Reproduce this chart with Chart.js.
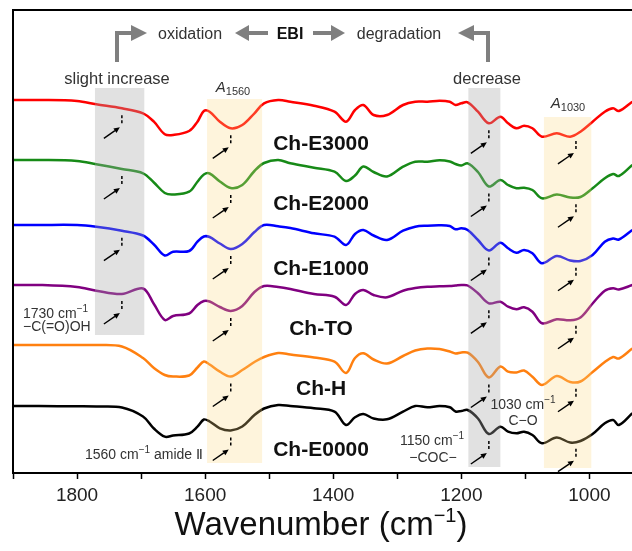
<!DOCTYPE html>
<html>
<head>
<meta charset="utf-8">
<script src="https://cdn.jsdelivr.net/npm/chart.js@4.4.1/dist/chart.umd.min.js"></script>
<style>
    html, body { margin: 0; padding: 0; background: #fff; }
</style>
</head>
<body>
<canvas id="myChart" width="632" height="551"></canvas>
<script>
// wavenumber grid (cm-1)
const wavenumbers = [1900, 1860, 1800, 1770, 1730, 1697, 1680, 1663, 1650, 1625,
    1612, 1602, 1593, 1577, 1560, 1542, 1523, 1508, 1486, 1467,
    1430, 1398, 1380, 1366, 1353, 1337, 1316, 1291, 1272, 1253,
    1234, 1218, 1209, 1200, 1190, 1174, 1157, 1139, 1127, 1114,
    1102, 1089, 1074, 1051, 1030, 1014, 995, 976, 963, 954, 933];

// absorbance relative to each spectrum's own baseline (a.u.)
const chE3000 = [0, 0, -1, -4.3, -8.3, -13.3, -21.7, -34.3, -35, -31,
    -21.7, -11, -11.7, -21.7, -28.3, -25, -13.3, -3.3, 0, -1.7,
    -5.7, -11.7, -21.7, -10, -5, -15, -15, -5, -1.7, -1.7,
    -0.7, -1.7, -5, -3.3, -2.3, -11.7, -23.3, -16.7, -23.3, -28.3,
    -25.7, -28.3, -36.7, -33.3, -36.7, -31.7, -21.7, -11.7, -8.3, -11, -1.7];
const chE2000 = [0, 0, -1, -4.3, -9, -13.3, -22.5, -33, -34.5, -31.7,
    -21.7, -14.5, -13.5, -21.5, -28, -25, -11, -3, 0, -3.3,
    -7.7, -11.7, -21, -15.5, -6.5, -12, -16.5, -6.7, -1.7, -1.7,
    -0.3, -1.5, -4, -5.5, -3.3, -12, -26.5, -20, -25, -28.3,
    -27.7, -30, -38.3, -34.5, -37.5, -37, -28.3, -18.3, -14, -16, -5];
const chE1000 = [0, 0, 0, -1.7, -5.7, -10.5, -19.5, -30.5, -26.7, -26,
    -16.7, -11.5, -12, -18.5, -24, -19, -7, 0, -1.3, -3,
    -8.3, -11.7, -20, -9, -5, -10.5, -15, -5.7, -1.7, -0.7,
    -0.3, -1, -4.3, -3.3, -5, -15, -25.5, -17.7, -23.3, -27.7,
    -25, -28.3, -38.3, -31, -35.5, -36, -30, -16.7, -13.5, -14.5, -5];
const chTO = [0, 0, -2, -5.7, -9, -3.5, -19, -35, -31, -28.5,
    -20, -16, -16.5, -22, -26, -21, -7, -1, -2, -4,
    -9, -11.7, -20, -9, -5, -10, -12.3, -5.7, -3, -1.7,
    -1.3, -1, -0.5, 0, -0.5, -8.3, -18.3, -16.7, -21.7, -24.3,
    -22.3, -26.7, -38.3, -34.3, -35.3, -32.5, -18.5, -5.7, -3.3, -4.5, 0];
const chH = [0, 0, 0, 0, -1.5, -13, -23, -30, -31.5, -30.5,
    -22.5, -16.5, -19.5, -26.7, -31.5, -25, -17, -12, -8, -9.5,
    -12.5, -16.7, -28, -13, -8.3, -14.5, -18.5, -11, -5.5, -3.5,
    -4, -6.5, -8.5, -7.5, -7.7, -17, -32.5, -21.5, -26.7, -27.5,
    -25.5, -31.7, -40, -31, -37, -36.5, -27, -17, -12, -13.5, -3.5];
const chE0000 = [0, 0, -0.3, -0.5, -1.5, -10.5, -22.5, -30.7, -29.5, -27.5,
    -20.7, -13.5, -15.5, -22.3, -24.5, -20.5, -9, -2.5, 1, 0,
    -2.3, -5.7, -19, -11.3, -8, -12.5, -13.3, -5.7, 0, -1.3,
    0, -1.3, -5.5, -5, -4, -12.5, -28, -20.7, -25.7, -27.3,
    -25.7, -29, -37.3, -31.5, -36.5, -35, -28, -17.3, -14, -19, -7.3];

const sampleNames = ['Ch-E3000', 'Ch-E2000', 'Ch-E1000', 'Ch-TO', 'Ch-H', 'Ch-E0000'];
const spectra = [chE3000, chE2000, chE1000, chTO, chH, chE0000];
const offsets = [373, 313, 248, 188, 128, 67];   // vertical stacking offsets
const colors = ['#ff0000', '#178a17', '#0000ff', '#800080', '#ff8010', '#000000'];

const tickValues = [1800, 1600, 1400, 1200, 1000];

// bands of interest (cm-1)
const grayBands = [[1772, 1695], [1189, 1139]];
const beigeBands = [[1597, 1511], [1071, 997]];
// marked bands: 1730, 1560, 1150, 1030
const markWn = [1730, 1560, 1157, 1021];

const FONT = "'Liberation Sans', Arial, sans-serif";

function valueAt(series, wn) {
    for (let i = 0; i < wavenumbers.length - 1; i++) {
        const a = wavenumbers[i], b = wavenumbers[i + 1];
        if (wn <= a && wn >= b) {
            const t = (a - wn) / (a - b);
            return series[i] + t * (series[i + 1] - series[i]);
        }
    }
    return series[series.length - 1];
}

function arrow(ctx, x1, y1, x2, y2, head, width, color, lw) {
    const ang = Math.atan2(y2 - y1, x2 - x1);
    const bx = x2 - head * Math.cos(ang), by = y2 - head * Math.sin(ang);
    ctx.strokeStyle = color;
    ctx.lineWidth = lw;
    ctx.beginPath();
    ctx.moveTo(x1, y1);
    ctx.lineTo(bx, by);
    ctx.stroke();
    ctx.fillStyle = color;
    ctx.beginPath();
    ctx.moveTo(x2, y2);
    ctx.lineTo(bx + width / 2 * Math.sin(ang), by - width / 2 * Math.cos(ang));
    ctx.lineTo(bx - width / 2 * Math.sin(ang), by + width / 2 * Math.cos(ang));
    ctx.closePath();
    ctx.fill();
}

// text made of parts: {t, s, dy, w (weight), i (italic)}
function richText(ctx, parts, x, y, align, color) {
    const fontOf = p => (p.i ? 'italic ' : '') + (p.w || 'normal') + ' ' + p.s + 'px ' + FONT;
    let total = 0;
    parts.forEach(p => { ctx.font = fontOf(p); total += ctx.measureText(p.t).width; });
    let cx = align === 'center' ? x - total / 2 : (align === 'right' ? x - total : x);
    ctx.fillStyle = color;
    ctx.textAlign = 'left';
    ctx.textBaseline = 'alphabetic';
    parts.forEach(p => {
        ctx.font = fontOf(p);
        ctx.fillText(p.t, cx, y + (p.dy || 0));
        cx += ctx.measureText(p.t).width;
    });
}

const overlayPlugin = {
    id: 'overlay',
    afterDatasetsDraw(chart) {
        const ctx = chart.ctx;
        const xs = chart.scales.x;
        ctx.save();
        const drawBand = (band, top, bottom, fill) => {
            const x1 = xs.getPixelForValue(band[0]), x2 = xs.getPixelForValue(band[1]);
            ctx.fillStyle = fill;
            ctx.fillRect(Math.min(x1, x2), top, Math.abs(x2 - x1), bottom - top);
        };
        drawBand(grayBands[0], 88, 335, 'rgba(168,168,168,0.34)');
        drawBand(grayBands[1], 88, 467, 'rgba(168,168,168,0.34)');
        drawBand(beigeBands[0], 99, 463, 'rgba(250,215,130,0.28)');
        drawBand(beigeBands[1], 117, 468, 'rgba(250,215,130,0.28)');
        ctx.restore();
    },
    afterDraw(chart) {
        const ctx = chart.ctx;
        const xs = chart.scales.x, ys = chart.scales.y;
        const area = chart.chartArea;
        ctx.save();

        // frame: top and left
        ctx.strokeStyle = '#000';
        ctx.lineWidth = 2;
        ctx.beginPath();
        ctx.moveTo(area.left, area.bottom);
        ctx.lineTo(area.left, area.top);
        ctx.lineTo(area.right, area.top);
        ctx.stroke();

        // markers: dashed tick + small arrow under each band
        spectra.forEach((s, k) => {
            markWn.forEach((wn, j) => {
                if (j === 0 && k > 3) return;
                const px = xs.getPixelForValue(wn);
                const py = ys.getPixelForValue(offsets[k] + valueAt(s, wn));
                ctx.setLineDash([3, 2]);
                ctx.strokeStyle = '#000';
                ctx.lineWidth = 1.5;
                ctx.beginPath();
                ctx.moveTo(px, py + 7);
                ctx.lineTo(px, py + 16);
                ctx.stroke();
                ctx.setLineDash([]);
                arrow(ctx, px - 18, py + 30, px - 2, py + 19, 6, 5.5, '#000', 1.4);
            });
        });

        // sample names
        const nameX = xs.getPixelForValue(1419);
        spectra.forEach((s, k) => {
            const base = ys.getPixelForValue(offsets[k]);
            richText(ctx, [{ t: sampleNames[k], s: 21, w: 'bold' }], nameX, base + 50, 'center', '#111');
        });

        // top scheme: oxidation <- EBI -> degradation
        const g = '#7f7f7f';
        const leftX = 117, rightX = 488, yA = 33;
        ctx.strokeStyle = g;
        ctx.lineWidth = 4;
        ctx.lineJoin = 'miter';
        ctx.beginPath();
        ctx.moveTo(leftX, 62); ctx.lineTo(leftX, yA); ctx.lineTo(133, yA);
        ctx.stroke();
        arrow(ctx, 132, yA, 147, yA, 16, 16, g, 4);
        ctx.beginPath();
        ctx.moveTo(rightX, 62); ctx.lineTo(rightX, yA); ctx.lineTo(472, yA);
        ctx.stroke();
        arrow(ctx, 473, yA, 458, yA, 16, 16, g, 4);
        arrow(ctx, 268, yA, 235, yA, 14, 16, g, 4);
        arrow(ctx, 313, yA, 345, yA, 14, 16, g, 4);

        const tc = '#333';
        richText(ctx, [{ t: 'oxidation', s: 16 }], 190, 39, 'center', tc);
        richText(ctx, [{ t: 'EBI', s: 16, w: 'bold' }], 290, 39, 'center', '#111');
        richText(ctx, [{ t: 'degradation', s: 16 }], 399, 39, 'center', tc);
        richText(ctx, [{ t: 'slight increase', s: 16.5 }], 117, 84, 'center', tc);
        richText(ctx, [{ t: 'decrease', s: 16.5 }], 487, 84, 'center', tc);

        richText(ctx, [{ t: 'A', s: 15, i: true }, { t: '1560', s: 11, dy: 3 }], 233, 92, 'center', tc);
        richText(ctx, [{ t: 'A', s: 15, i: true }, { t: '1030', s: 11, dy: 3 }], 568, 108, 'center', tc);

        const sup = { t: '\u22121', s: 10, dy: -6 };
        richText(ctx, [{ t: '1730 cm', s: 14 }, sup], 23, 318, 'left', tc);
        richText(ctx, [{ t: '\u2212C(=O)OH', s: 14 }], 23, 331, 'left', tc);
        richText(ctx, [{ t: '1560 cm', s: 14 }, sup, { t: ' amide \u2161', s: 14 }], 203, 459, 'right', tc);
        richText(ctx, [{ t: '1150 cm', s: 14 }, sup], 432, 445, 'center', tc);
        richText(ctx, [{ t: '\u2212COC\u2212', s: 14 }], 433, 462, 'center', tc);
        richText(ctx, [{ t: '1030 cm', s: 14 }, sup], 523, 409, 'center', tc);
        richText(ctx, [{ t: 'C\u2212O', s: 14 }], 523, 425, 'center', tc);

        // axis title
        richText(ctx, [{ t: 'Wavenumber (cm', s: 33 }, { t: '\u22121', s: 20, dy: -13 }, { t: ')', s: 33 }],
            321, 535, 'center', '#111');
        ctx.restore();
    }
};

const datasets = spectra.map((s, k) => ({
    label: sampleNames[k],
    data: wavenumbers.map((w, i) => ({ x: w, y: offsets[k] + s[i] })),
    borderColor: colors[k],
    borderWidth: 2.5,
    pointRadius: 0,
    fill: false,
    tension: 0.35
}));

myChart = new Chart(document.getElementById('myChart').getContext('2d'), {
    type: 'line',
    data: { datasets: datasets },
    options: {
        responsive: false,
        animation: false,
        layout: { padding: { left: 13, top: 10, right: 0, bottom: 0 } },
        plugins: {
            legend: { display: false },
            tooltip: { enabled: false }
        },
        scales: {
            x: {
                type: 'linear',
                reverse: true,
                min: 933.5,
                max: 1900,
                afterFit: (scale) => { scale.height = 78; },
                border: { display: true, color: '#000', width: 2 },
                grid: {
                    drawOnChartArea: false,
                    drawTicks: true,
                    tickLength: 6,
                    tickColor: '#000',
                    tickWidth: 1.5
                },
                ticks: {
                    stepSize: 100,
                    includeBounds: false,
                    autoSkip: false,
                    maxRotation: 0,
                    padding: 5,
                    color: '#222',
                    font: { family: FONT, size: 19 },
                    callback: (v) => tickValues.includes(v) ? String(v) : ''
                }
            },
            y: {
                display: false,
                min: 0,
                max: 463
            }
        }
    },
    plugins: [overlayPlugin]
});
</script>
</body>
</html>
